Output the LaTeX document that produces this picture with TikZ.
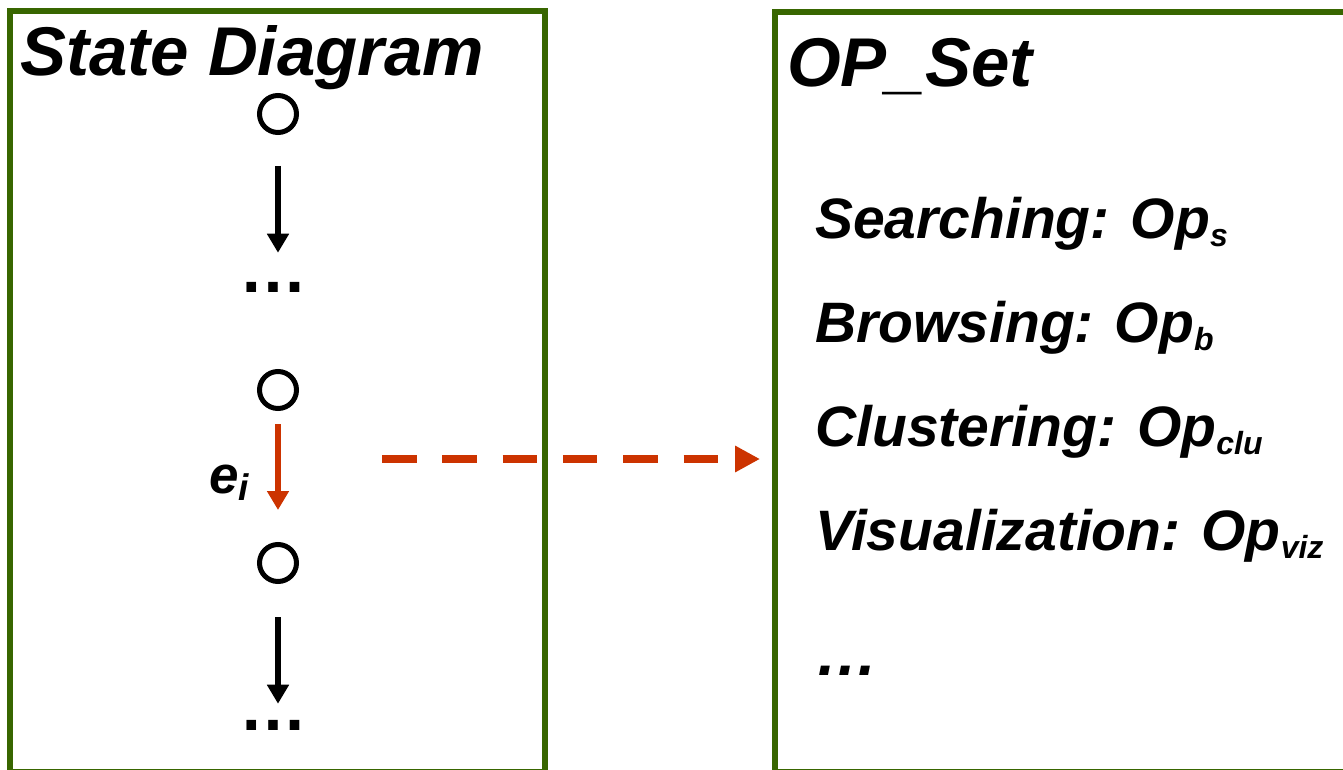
\documentclass[tikz,border=0pt]{standalone}
\usepackage{fontspec}
\setmainfont{Liberation Sans}
\usetikzlibrary{arrows.meta}
\definecolor{boxgreen}{RGB}{56,102,0}
\definecolor{edgered}{RGB}{204,51,0}
% lowered, smaller subscript in the running bold italic face
\newcommand\opsub[2][32]{\raisebox{-0.15em}{\fontsize{#1}{#1}\selectfont #2}}
\begin{document}
\begin{tikzpicture}[x=1pt,y=-1pt,
  frame/.style={draw=boxgreen, line width=6pt, anchor=north west, inner sep=0pt, outer sep=0pt},
  state/.style={circle, draw=black, line width=5pt, minimum size=37pt, inner sep=0pt},
  title/.style={anchor=base west, inner sep=0pt, font=\fontsize{69}{69}\selectfont\bfseries\itshape},
  item/.style={anchor=base west, inner sep=0pt, font=\fontsize{57}{57}\selectfont\bfseries\itshape},
  more/.style={inner sep=0pt, font=\fontsize{68}{68}\selectfont\bfseries},
  trans/.style={line width=6pt, -{Triangle[length=19pt,width=21pt]}},
]
\useasboundingbox (0,0) rectangle (1343,770);

% the two panels
\node (sd)  [frame, minimum width=535pt, minimum height=761pt] at (10,11) {};
\node (ops) [frame, minimum width=625pt, minimum height=760pt] at (775,12) {};

\node (sdtitle)  [title] at (20,76) {State Diagram};
\node (opstitle) [title] at (787,87) {OP\_Set};

% states of the chain
\node (c1) [state] at (278,114) {};
\node (d1) [more]  at (273,287) {…};
\node (c2) [state] at (278,390) {};
\node (c3) [state] at (278,563) {};
\node (d3) [more]  at (273,725) {…};

\draw[trans, shorten <=31pt, shorten >=29pt] (c1) -- (c1 |- d1.north);
\draw[trans, draw=edgered, fill=edgered, shorten <=13pt, shorten >=32pt] (c2) -- (c3);
\draw[trans, shorten <=33pt, shorten >=16pt] (c3) -- (c3 |- d3.north);

\node (ei) [anchor=base west, inner sep=0pt, font=\fontsize{53}{53}\selectfont\bfseries\itshape]
  at (209,493) {e\opsub[37]{i}};

% the chosen edge maps to an operation
\coordinate (src) at (382,459);
\draw[draw=edgered, line width=8pt, dash pattern=on 34.5pt off 25.8pt,
  -{Triangle[length=25pt,width=25pt,fill=edgered]}, shorten >=15pt]
  (src) -- (src -| ops.west);

% operation list
\node (op1) [item] at (815,238) {Searching: Op\opsub{s}};
\node (op2) [item] at (815,342) {Browsing: Op\opsub{b}};
\node (op3) [item] at (815,446) {Clustering: Op\opsub{clu}};
\node (op4) [item] at (815,550) {Visualization: Op\opsub{viz}};
\node (op5) [item, font=\fontsize{63}{63}\selectfont\bfseries\itshape] at (815,675) {…};
\end{tikzpicture}
\end{document}
